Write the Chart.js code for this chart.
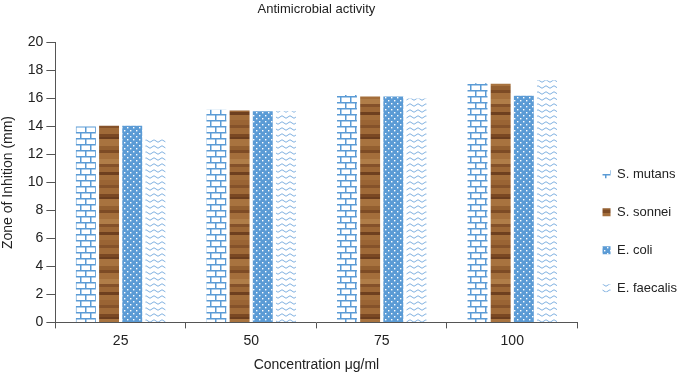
<!DOCTYPE html>
<html lang="en">
<head>
    <meta charset="UTF-8">
    <title>Antimicrobial activity</title>
    <script src="https://cdn.jsdelivr.net/npm/chart.js"></script>
    <style>
        body { margin: 0; background: #fff; }
    </style>
</head>
<body>
    <canvas id="myChart" width="693" height="380"></canvas>
    <script>
        // data
        const categories = ['25', '50', '75', '100'];
        const seriesNames = ['S. mutans', 'S. sonnei', 'E. coli', 'E. faecalis'];
        const sMutans = [14.0, 15.2, 16.25, 17.1];
        const sSonnei = [14.05, 15.15, 16.15, 17.05];
        const eColi = [14.05, 15.1, 16.15, 16.2];
        const eFaecalis = [13.1, 15.1, 16.0, 17.3];
        const yTicks = [0, 2, 4, 6, 8, 10, 12, 14, 16, 18, 20];

        const blue = '#5b9bd5';

        function makeTile(w, h, draw) {
            const c = document.createElement('canvas');
            c.width = w; c.height = h;
            const g = c.getContext('2d');
            draw(g, w, h);
            return g.createPattern(c, 'repeat');
        }

        // brick pattern
        const brick = makeTile(10, 12, function(g, w, h){
            g.fillStyle = '#fff';
            g.fillRect(0, 0, w, h);
            g.fillStyle = blue;
            g.fillRect(0, 0, w, 1.5);
            g.fillRect(0, 6, w, 1.5);
            g.fillRect(0, 0, 1.5, 6);
            g.fillRect(5, 6, 1.5, 6);
        });

        // wood texture, fixed streaks
        const woodStreaks = [
            [0, 5, '#9a6434'], [5, 3, '#85522a'], [8, 6, '#a06a38'], [14, 3, '#7a4823'],
            [17, 2, '#6a3d1e'], [19, 7, '#a8733f'], [26, 4, '#935f30'], [30, 3, '#7d4b25'],
            [33, 6, '#a46e3b'], [39, 5, '#b07d48'], [44, 3, '#84512a'], [47, 5, '#9c6736'],
            [52, 3, '#6e401f'], [55, 5, '#a26d3a']
        ];
        const wood = makeTile(20, 60, function(g, w, h){
            woodStreaks.forEach(function(s){
                g.fillStyle = s[2];
                g.fillRect(0, s[0], w, s[1]);
            });
        });

        // dotted pattern
        const dots = makeTile(6, 6, function(g, w, h){
            g.fillStyle = blue;
            g.fillRect(0, 0, w, h);
            g.fillStyle = '#fff';
            g.fillRect(1, 1, 1.4, 1.4);
            g.fillRect(4, 4, 1.4, 1.4);
        });

        // wave pattern
        const wave = makeTile(8, 6, function(g, w, h){
            g.fillStyle = '#fff';
            g.fillRect(0, 0, w, h);
            g.strokeStyle = '#7fb0e0';
            g.lineWidth = 1;
            g.beginPath();
            g.moveTo(0, 3);
            g.quadraticCurveTo(2, 0.5, 4, 3);
            g.quadraticCurveTo(6, 5.5, 8, 3);
            g.stroke();
        });

        const seriesValues = [sMutans, sSonnei, eColi, eFaecalis];
        const fills = [brick, wood, dots, wave];

        const datasets = seriesNames.map(function(name, i){
            return {
                label: name,
                data: seriesValues[i],
                backgroundColor: fills[i],
                borderWidth: 0,
                categoryPercentage: 0.71,
                barPercentage: 0.86
            };
        });

        const font = { family: '"Liberation Sans", Arial, sans-serif', size: 14 };

        new Chart(document.getElementById('myChart'), {
            type: 'bar',
            data: { labels: categories, datasets: datasets },
            options: {
                responsive: false,
                animation: false,
                layout: { padding: { top: 0, left: 0, right: 6, bottom: 2 } },
                plugins: {
                    title: {
                        display: true,
                        fullSize: false,
                        text: 'Antimicrobial activity',
                        color: '#222',
                        font: { family: font.family, size: 13, weight: 'normal' },
                        padding: { top: 2, bottom: 25 }
                    },
                    legend: {
                        position: 'right',
                        title: { display: true, text: ' ', padding: 35 },
                        labels: {
                            color: '#222',
                            font: { family: font.family, size: 13 },
                            boxWidth: 8,
                            boxHeight: 8,
                            padding: 25
                        }
                    },
                    tooltip: { enabled: false }
                },
                scales: {
                    x: {
                        grid: { drawOnChartArea: false, drawTicks: true, tickLength: 6, color: '#555', offset: true },
                        border: { color: '#555' },
                        ticks: { color: '#222', font: font, padding: 4 },
                        title: { display: true, text: 'Concentration μg/ml', color: '#222', font: font, padding: { top: 4 } }
                    },
                    y: {
                        min: 0,
                        max: 20,
                        afterBuildTicks: function(axis){
                            axis.ticks = yTicks.map(function(v){ return { value: v }; });
                        },
                        grid: { drawOnChartArea: false, drawTicks: true, tickLength: 9, color: '#555' },
                        border: { color: '#555' },
                        ticks: { color: '#222', font: font, padding: 3 },
                        title: { display: true, text: 'Zone of Inhition (mm)', color: '#222', font: font, padding: { top: 0, bottom: 8 } }
                    }
                }
            }
        });
    </script>
</body>
</html>
